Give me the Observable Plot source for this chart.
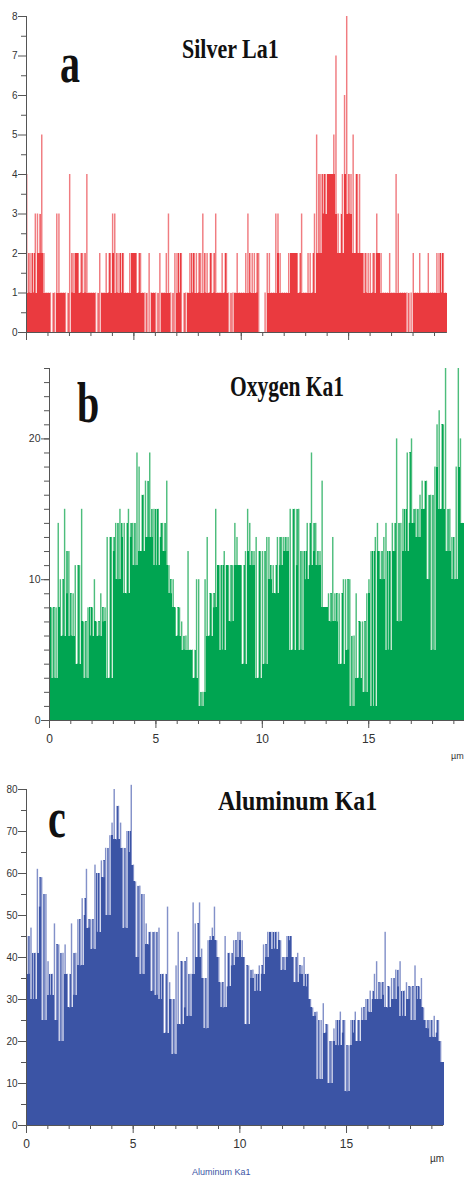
<!DOCTYPE html>
<html><head><meta charset="utf-8">
<script src="https://cdn.jsdelivr.net/npm/d3@7"></script>
<script src="https://cdn.jsdelivr.net/npm/@observablehq/plot@0.6"></script>
<style>
body{margin:0;background:#fff;}
#wrap{position:relative;width:464px;height:1180px;overflow:hidden;background:#fff;}
.panel{position:absolute;left:0;}
.lbl{position:absolute;font-family:"Liberation Serif","Times New Roman",serif;font-weight:bold;color:#111;transform-origin:0 0;white-space:nowrap;line-height:1;}
.small{position:absolute;font-family:"Liberation Sans",Arial,sans-serif;white-space:nowrap;line-height:1;}
</style></head><body><div id="wrap"></div>
<script>
// bin width along the line scan, µm
const binStep = 0.1;

// Silver La1 counts (one value per 0.1 µm)
const silver = [
 4,1,2,1,3,3,2,5,2,1, 1,1,0,1,3,3,1,1,1,0, 4,1,2,2,2,1,2,1,4,1, 1,1,1,0,2,1,1,2,1,2,
 3,3,1,2,1,2,1,1,2,2, 2,2,1,2,1,1,0,2,1,1, 1,0,2,1,1,2,3,1,0,2, 2,1,2,0,1,1,2,1,2,2,
 1,2,3,1,2,1,2,1,3,1, 1,2,1,2,1,0,1,1,2,1, 1,1,2,3,1,2,2,1,2,0, 0,1,2,2,1,1,3,3,2,1,
 1,1,2,2,2,2,2,1,3,1, 1,2,2,1,3,5,2,4,3,4, 4,4,4,5,7,3,2,4,6,8, 3,4,5,2,4,4,2,2,1,2,
 2,1,2,3,2,2,1,1,1,2, 1,1,4,3,1,1,1,1,0,1, 2,1,1,2,1,1,1,2,1,1, 1,2,2,1,2,1
];

// Oxygen Ka1 counts
const oxygen = [
 8,8,3,8,14,10,6,15,9,12, 6,9,11,4,11,15,7,3,8,6, 8,10,7,6,9,7,8,13,3,13, 12,14,10,15,13,14,9,15,13,14,
 11,19,18,12,16,17,13,19,13,15, 11,15,13,14,12,17,11,9,10,8, 6,8,7,5,6,12,5,5,3,10, 10,1,2,10,13,6,9,8,15,11,
 11,5,12,11,11,7,11,14,13,11, 11,4,12,15,14,11,12,13,3,12, 12,4,13,13,10,11,9,13,11,13, 13,12,13,15,5,15,11,15,5,12,
 10,14,11,19,12,14,11,12,17,8, 8,9,7,13,9,7,9,4,10,10, 5,10,1,6,9,3,7,7,2,9, 10,12,1,13,14,12,10,13,14,5,
 12,14,12,20,7,14,15,12,19,14, 20,14,15,13,16,17,15,17,10,16, 5,18,21,22,15,21,25,12,15,13, 10,18,25,20,14
];

// Aluminum Ka1 counts
const aluminum = [
 45,36,47,30,41,61,52,59,25,55, 39,31,36,48,25,43,20,41,43,36, 28,48,31,41,49,38,54,50,61,47, 49,42,62,46,60,63,59,66,50,69,
 72,80,68,76,72,66,47,70,65,81, 62,58,40,57,36,55,48,43,46,32, 46,31,47,30,36,22,52,34,30,17, 38,46,24,39,28,40,26,36,53,48,
 40,53,42,35,23,44,45,47,52,44, 40,34,28,45,33,41,38,44,40,46, 46,44,40,24,38,35,37,36,32,38, 36,43,40,46,46,46,42,46,46,44,
 37,40,45,44,45,40,34,41,36,38, 40,33,36,30,28,26,27,11,25,29, 22,24,10,20,23,25,19,27,22,25, 8,19,25,22,27,20,25,28,25,30,
 27,32,30,36,39,30,34,31,46,28, 33,35,30,37,33,39,26,32,34,30, 33,25,38,30,33,35,28,25,23,25, 21,26,22,25,20,15
];

// axis ticks
const silverYTicks = [0,1,2,3,4,5,6,7,8];
const silverYMinor = [0.5,1.5,2.5,3.5,4.5,5.5,6.5,7.5];
const oxygenYTicks = [0,10,20];
const oxygenYMinor = d3.range(0,26,1);
const aluminumYTicks = [0,10,20,30,40,50,60,70,80];
const aluminumYMinor = [5,15,25,35,45,55,65,75];
const xMajor = [0,5,10,15];
const xMinor = d3.range(0,20,1);

function panel(o){
  const n = o.values.length;
  const idx = d3.range(n);
  const v = o.values;
  const prev = i => i > 0 ? v[i-1] : v[i];
  const next = i => i < n-1 ? v[i+1] : v[i];
  const nb = idx.map(i => Math.min(prev(i), next(i)));
  const isDip = idx.map(i => v[i] < prev(i) && v[i] < next(i));
  const body = idx.map(i => isDip[i] ? nb[i] : Math.min(v[i], nb[i]));
  const dips = idx.filter(i => isDip[i]);
  const axisCol = "#555";
  const bx1 = i => i*binStep, bx2 = i => (i+1)*binStep;
  return Plot.plot({
    width: 464, height: o.height,
    marginTop: o.mt, marginBottom: o.mb, marginLeft: o.ml, marginRight: o.mr,
    x: {domain: [0, o.xmax]},
    y: {domain: [0, o.ymax]},
    style: {fontFamily: "Liberation Sans, Arial, sans-serif", fontSize: o.yFont + "px", color: "#333", background: "transparent", overflow: "visible"},
    marks: [
      Plot.rectY(idx, {x1: bx1, x2: bx2, y1: 0, y2: i => v[i], fill: o.light, insetRight: 0.7}),
      Plot.rectY(idx, {x1: bx1, x2: bx2, y1: 0, y2: i => body[i], fill: o.dark, shapeRendering: "crispEdges"}),
      Plot.rectY(dips, {x1: bx1, x2: bx2, y1: i => v[i], y2: i => nb[i], fill: o.pale, insetLeft: 0.5, insetRight: 0.7}),
      Plot.ruleX([0], {y1: 0, y2: o.ymax, stroke: axisCol}),
      Plot.ruleY([0], {x1: 0, x2: o.xEnd, stroke: axisCol}),
      Plot.axisY({ticks: o.yTicks, tickSize: 8, tickPadding: 1, label: null, stroke: axisCol}),
      Plot.axisY({ticks: o.yMinor, tickSize: 5, tickFormat: () => "", label: null, stroke: axisCol}),
      Plot.axisX({ticks: xMajor, tickSize: 8, tickPadding: 6, label: null, stroke: axisCol, fontSize: 12,
                  tickFormat: o.xLabels ? (d => String(d)) : (() => "")}),
      Plot.axisX({ticks: xMinor, tickSize: 4, tickFormat: () => "", label: null, stroke: axisCol})
    ]
  });
}

const wrap = document.getElementById("wrap");
function place(node, top){ const d = document.createElement("div"); d.className = "panel"; d.style.top = top + "px"; d.appendChild(node); wrap.appendChild(d); }

place(panel({values: silver, ymax: 8, yTicks: silverYTicks, yMinor: silverYMinor, xmax: 20, xEnd: 19.6,
  height: 345, mt: 16, mb: 13, ml: 26, mr: 8.5, dark: "#ea3a3f", light: "#f07c80", pale: "#fbd0d2", xLabels: false, yFont: 10}), 0);
place(panel({values: oxygen, ymax: 25, yTicks: oxygenYTicks, yMinor: oxygenYMinor, xmax: 19.5, xEnd: 19.5,
  height: 410, mt: 23, mb: 35, ml: 49, mr: 0, dark: "#00a551", light: "#4dbd7c", pale: "#a9e0be", xLabels: true, yFont: 10.5}), 345);
place(panel({values: aluminum, ymax: 80, yTicks: aluminumYTicks, yMinor: aluminumYMinor, xmax: 20, xEnd: 19.55,
  height: 425, mt: 34, mb: 55, ml: 26, mr: 11.3, dark: "#3b54a5", light: "#8391c9", pale: "#b6bee3", xLabels: true, yFont: 10}), 755);

function lbl(text, left, top, size, sy){
  const d = document.createElement("div"); d.className = "lbl"; d.textContent = text;
  d.style.left = left + "px"; d.style.top = top + "px"; d.style.fontSize = size + "px";
  d.style.transform = "scaleY(" + sy + ")"; wrap.appendChild(d);
}
lbl("a", 60, 36, 40, 1.4);
lbl("b", 77, 376, 40, 1.4);
lbl("c", 48, 791, 40, 1.4);
lbl("Silver La1", 182, 35, 22, 1.28);
lbl("Oxygen Ka1", 230, 372, 21.5, 1.4);
lbl("Aluminum Ka1", 218, 787, 24, 1.13);

function small(text, left, top, size, color){
  const d = document.createElement("div"); d.className = "small"; d.textContent = text;
  d.style.left = left + "px"; d.style.top = top + "px"; d.style.fontSize = size + "px"; d.style.color = color;
  wrap.appendChild(d);
}
small("µm", 451, 752, 9, "#333");
small("µm", 430, 1154, 10, "#333");
small("Aluminum Ka1", 192, 1168, 9, "#3b54a5");
</script>
</body></html>
